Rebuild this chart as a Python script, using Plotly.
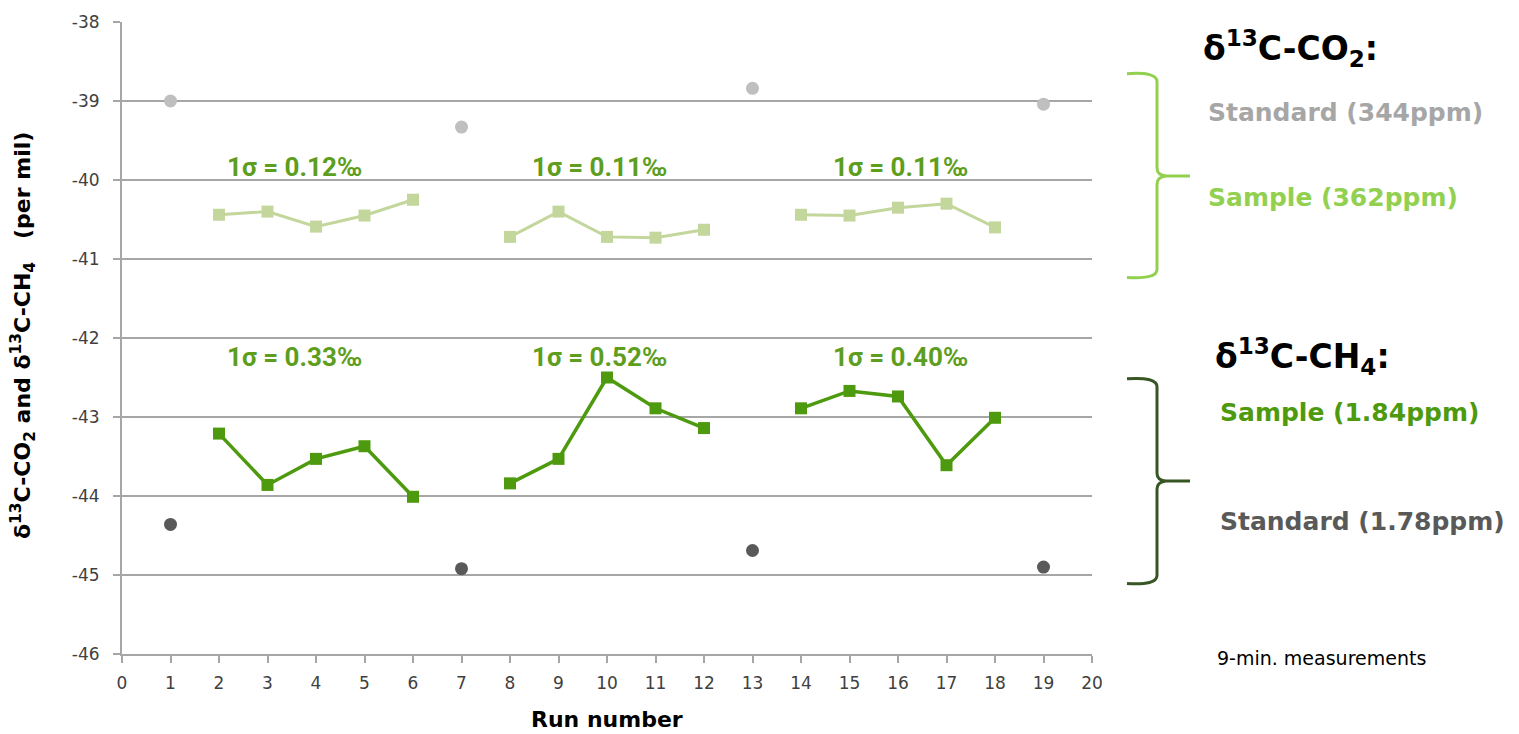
import plotly.graph_objects as go

# ---- data -------------------------------------------------------------
std_runs = [1, 7, 13, 19]
co2_standard = [-39.00, -39.33, -38.84, -39.04]
ch4_standard = [-44.36, -44.92, -44.69, -44.90]

sample_runs = [2, 3, 4, 5, 6, 7, 8, 9, 10, 11, 12, 13, 14, 15, 16, 17, 18]
co2_sample = [-40.44, -40.40, -40.59, -40.45, -40.25, None,
              -40.72, -40.40, -40.72, -40.73, -40.63, None,
              -40.44, -40.45, -40.35, -40.30, -40.60]
ch4_sample = [-43.21, -43.86, -43.53, -43.37, -44.01, None,
              -43.84, -43.53, -42.50, -42.89, -43.14, None,
              -42.89, -42.67, -42.74, -43.61, -43.01]

sigma_x = [3.55, 9.85, 16.05]
sigma_co2 = ["0.12", "0.11", "0.11"]
sigma_ch4 = ["0.33", "0.52", "0.40"]
sigma_co2_y = -39.83
sigma_ch4_y = -42.24

x_ticks = list(range(0, 21))
x_tick_text = [str(v) for v in x_ticks]
y_ticks = [-46, -45, -44, -43, -42, -41, -40, -39, -38]
y_tick_text = ["-46", "-45", "-44", "-43", "-42", "-41", "-40", "-39", "-38"]

# ---- layout geometry (pixels) -----------------------------------------
W, H = 1519, 734
L, R, T, B = 122, 427, 18, 80
PW, PH = W - L - R, H - T - B


def px(x):
    return (x - L) / PW


def py(y):
    return (H - B - y) / PH


def brace(x0, xv, xt, y_top, y_tip, y_bot):
    """Right-facing curly brace path in paper coordinates."""
    pts = [
        f"M {px(x0)},{py(y_top)}",
        f"Q {px(xv)},{py(y_top - 2)} {px(xv)},{py(y_top + 8)}",
        f"L {px(xv)},{py(y_tip - 8)}",
        f"Q {px(xv)},{py(y_tip - 1)} {px(xv + 9)},{py(y_tip)}",
        f"L {px(xt)},{py(y_tip)}",
        f"M {px(xv + 9)},{py(y_tip)}",
        f"Q {px(xv)},{py(y_tip + 1)} {px(xv)},{py(y_tip + 8)}",
        f"L {px(xv)},{py(y_bot - 8)}",
        f"Q {px(xv)},{py(y_bot + 2)} {px(x0)},{py(y_bot)}",
    ]
    return " ".join(pts)


CO2_GREEN = "#c3d69b"
CH4_GREEN = "#4e9a0e"
LABEL_GREEN = "#5e9e1e"

fig = go.Figure()

fig.add_trace(go.Scatter(
    x=sample_runs, y=co2_sample, mode="lines+markers", connectgaps=False,
    line=dict(color=CO2_GREEN, width=3),
    marker=dict(symbol="square", size=12, color=CO2_GREEN),
    name="CO2 sample"))

fig.add_trace(go.Scatter(
    x=sample_runs, y=ch4_sample, mode="lines+markers", connectgaps=False,
    line=dict(color=CH4_GREEN, width=3.5),
    marker=dict(symbol="square", size=12, color=CH4_GREEN),
    name="CH4 sample"))

fig.add_trace(go.Scatter(
    x=std_runs, y=co2_standard, mode="markers",
    marker=dict(symbol="circle", size=13, color="#bfbfbf"),
    name="CO2 standard"))

fig.add_trace(go.Scatter(
    x=std_runs, y=ch4_standard, mode="markers",
    marker=dict(symbol="circle", size=13, color="#595959"),
    name="CH4 standard"))

annotations = []
sigma_font = dict(family="Roboto, sans-serif", size=26, color=LABEL_GREEN)
for xv, s in zip(sigma_x, sigma_co2):
    annotations.append(dict(x=xv, y=sigma_co2_y, xref="x", yref="y",
                            text=f"<b>1σ = {s}‰</b>", showarrow=False,
                            font=sigma_font))
for xv, s in zip(sigma_x, sigma_ch4):
    annotations.append(dict(x=xv, y=sigma_ch4_y, xref="x", yref="y",
                            text=f"<b>1σ = {s}‰</b>", showarrow=False,
                            font=sigma_font))

side_items = [
    ("<b>δ<sup>13</sup>C-CO<sub>2</sub>:</b>", 1201, 45, 33, "#000000", "DejaVu Sans, sans-serif"),
    ("<b>Standard (344ppm)</b>", 1206, 109, 25, "#a6a6a6", "DejaVu Sans, sans-serif"),
    ("<b>Sample (362ppm)</b>", 1206, 195, 25, "#92d050", "DejaVu Sans, sans-serif"),
    ("<b>δ<sup>13</sup>C-CH<sub>4</sub>:</b>", 1213, 355, 33, "#000000", "DejaVu Sans, sans-serif"),
    ("<b>Sample (1.84ppm)</b>", 1218, 411, 25, "#4e9a0e", "DejaVu Sans, sans-serif"),
    ("<b>Standard (1.78ppm)</b>", 1218, 521, 25, "#595959", "DejaVu Sans, sans-serif"),
    ("9-min. measurements", 1215, 658, 19, "#000000", "DejaVu Sans, sans-serif"),
]
for text, x, y, size, color, fam in side_items:
    annotations.append(dict(x=px(x), y=py(y), xref="paper", yref="paper",
                            xanchor="left", yanchor="middle", text=text,
                            showarrow=False,
                            font=dict(family=fam, size=size, color=color)))

annotations.append(dict(
    x=px(607), y=py(720), xref="paper", yref="paper", showarrow=False,
    xanchor="center", yanchor="middle",
    text="<b>Run number</b>",
    font=dict(family="DejaVu Sans, sans-serif", size=22, color="#000000")))
annotations.append(dict(
    x=px(23), y=py(334), xref="paper", yref="paper", showarrow=False,
    xanchor="center", yanchor="middle",
    textangle=-90,
    text="<b>δ<sup>13</sup>C-CO<sub>2</sub> and δ<sup>13</sup>C-CH<sub>4</sub>   (per mil)</b>",
    font=dict(family="DejaVu Sans, sans-serif", size=22, color="#000000")))

shapes = [
    dict(type="path", xref="paper", yref="paper",
         path=brace(1127, 1157, 1190, 70, 173, 275),
         line=dict(color="#92d050", width=3)),
    dict(type="path", xref="paper", yref="paper",
         path=brace(1127, 1157, 1190, 377, 480, 583),
         line=dict(color="#375623", width=3)),
]

axis_font = dict(family="DejaVu Sans, sans-serif", size=17, color="#404040")
fig.update_layout(
    width=W, height=H,
    margin=dict(l=L, r=R, t=T, b=B),
    paper_bgcolor="white", plot_bgcolor="white",
    showlegend=False,
    annotations=annotations,
    shapes=shapes,
    xaxis=dict(range=[0, 20], tickvals=x_ticks, ticktext=x_tick_text,
               showgrid=False,
               showline=True, linecolor="#a6a6a6", linewidth=2,
               ticks="outside", ticklen=7, tickcolor="#a6a6a6", tickwidth=2,
               ticklabelstandoff=6,
               tickfont=axis_font, zeroline=False, fixedrange=True),
    yaxis=dict(range=[-46, -38], tickvals=y_ticks, ticktext=y_tick_text,
               showgrid=True,
               gridcolor="#a6a6a6", gridwidth=2,
               showline=True, linecolor="#a6a6a6", linewidth=2,
               ticks="outside", ticklen=7, tickcolor="#a6a6a6", tickwidth=2,
               ticklabelstandoff=10,
               tickfont=axis_font, zeroline=False, fixedrange=True),
)

fig.write_html("out.html")
